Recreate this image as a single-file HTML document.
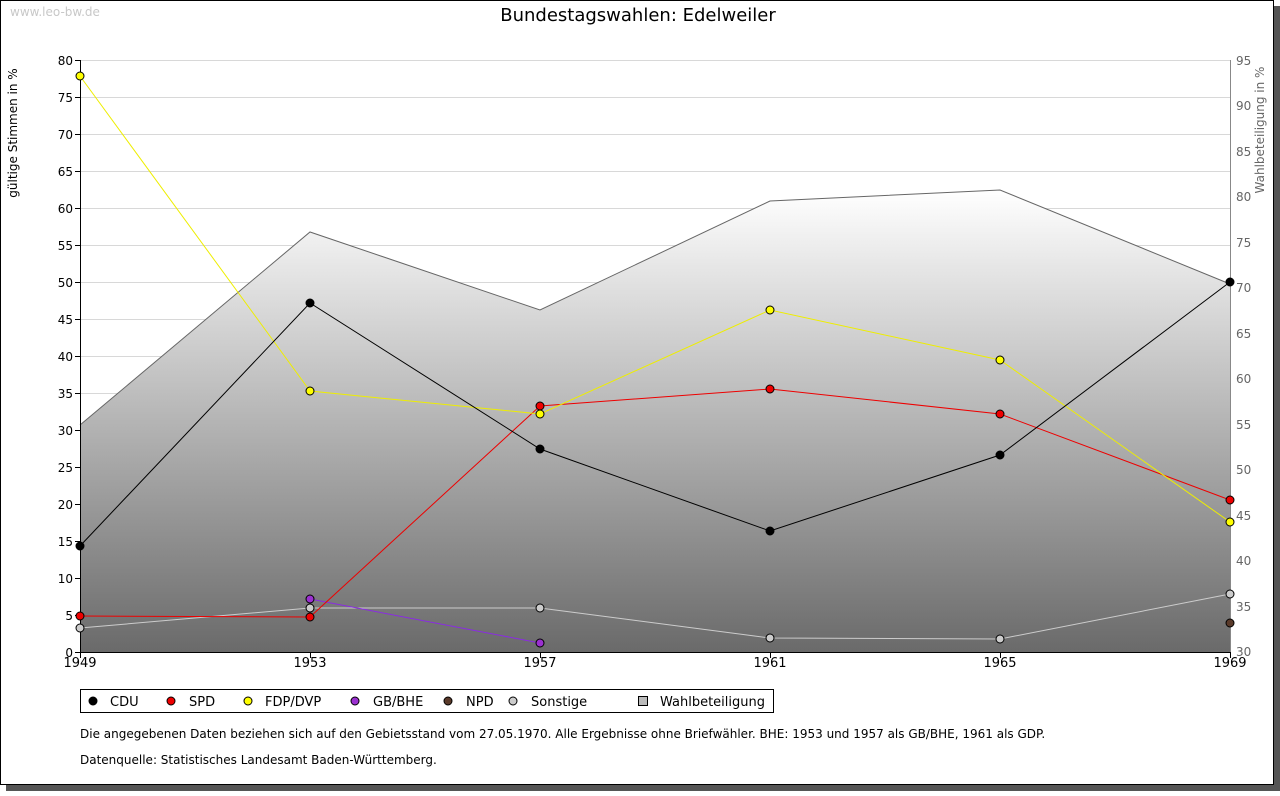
<!DOCTYPE html>
<html><head><meta charset="utf-8"><style>
body{margin:0;background:#fff;width:1280px;height:791px;overflow:hidden;font-family:"Liberation Sans","DejaVu Sans",sans-serif}
</style></head><body>
<svg width="1280" height="791" xmlns="http://www.w3.org/2000/svg" font-family="DejaVu Sans, Liberation Sans, sans-serif">
<defs><linearGradient id="g" gradientUnits="userSpaceOnUse" x1="0" y1="190" x2="0" y2="652">
<stop offset="0" stop-color="#ffffff"/><stop offset="1" stop-color="#6a6a6a"/></linearGradient></defs>
<rect x="6" y="6" width="1274" height="785" fill="#555"/>
<rect x="0.5" y="0.5" width="1273" height="784" fill="#fff" stroke="#000"/>
<text x="10" y="16" font-size="12" fill="#c8c8c8">www.leo-bw.de</text>
<text x="638" y="21" font-size="18" text-anchor="middle" fill="#000">Bundestagswahlen: Edelweiler</text>
<g stroke="#d8d8d8" stroke-width="1">
<line x1="80" x2="1230" y1="60.5" y2="60.5"/><line x1="80" x2="1230" y1="97.5" y2="97.5"/><line x1="80" x2="1230" y1="134.5" y2="134.5"/><line x1="80" x2="1230" y1="171.5" y2="171.5"/><line x1="80" x2="1230" y1="208.5" y2="208.5"/><line x1="80" x2="1230" y1="245.5" y2="245.5"/><line x1="80" x2="1230" y1="282.5" y2="282.5"/><line x1="80" x2="1230" y1="319.5" y2="319.5"/><line x1="80" x2="1230" y1="356.5" y2="356.5"/><line x1="80" x2="1230" y1="393.5" y2="393.5"/><line x1="80" x2="1230" y1="430.5" y2="430.5"/><line x1="80" x2="1230" y1="467.5" y2="467.5"/><line x1="80" x2="1230" y1="504.5" y2="504.5"/><line x1="80" x2="1230" y1="541.5" y2="541.5"/><line x1="80" x2="1230" y1="578.5" y2="578.5"/><line x1="80" x2="1230" y1="615.5" y2="615.5"/>
</g>
<polygon points="80,425 310,232 540,310 770,201 1000,190 1230,284 1230,652 80,652" fill="url(#g)"/>
<polyline points="80,425 310,232 540,310 770,201 1000,190 1230,284" fill="none" stroke="#666"/>
<line x1="80.5" y1="60" x2="80.5" y2="652" stroke="#000"/>
<line x1="80" y1="652.5" x2="1230" y2="652.5" stroke="#000"/>
<line x1="1230.5" y1="60" x2="1230.5" y2="652" stroke="#888"/>
<g font-size="12" fill="#000" text-anchor="end">
<text x="73" y="65">80</text><text x="73" y="102">75</text><text x="73" y="139">70</text><text x="73" y="176">65</text><text x="73" y="213">60</text><text x="73" y="250">55</text><text x="73" y="287">50</text><text x="73" y="324">45</text><text x="73" y="361">40</text><text x="73" y="398">35</text><text x="73" y="435">30</text><text x="73" y="472">25</text><text x="73" y="509">20</text><text x="73" y="546">15</text><text x="73" y="583">10</text><text x="73" y="620">5</text><text x="73" y="657">0</text>
</g>
<g stroke="#000"><path d="M75 60.5h5M75 97.5h5M75 134.5h5M75 171.5h5M75 208.5h5M75 245.5h5M75 282.5h5M75 319.5h5M75 356.5h5M75 393.5h5M75 430.5h5M75 467.5h5M75 504.5h5M75 541.5h5M75 578.5h5M75 615.5h5M75 652.5h5"/>
<path d="M80.5 652v6M310.5 652v6M540.5 652v6M770.5 652v6M1000.5 652v6M1230.5 652v6"/></g>
<g font-size="12" fill="#666">
<text x="1236" y="65">95</text><text x="1236" y="110">90</text><text x="1236" y="156">85</text><text x="1236" y="201">80</text><text x="1236" y="247">75</text><text x="1236" y="292">70</text><text x="1236" y="338">65</text><text x="1236" y="383">60</text><text x="1236" y="429">55</text><text x="1236" y="474">50</text><text x="1236" y="520">45</text><text x="1236" y="565">40</text><text x="1236" y="611">35</text><text x="1236" y="656">30</text>
</g>
<g font-size="13" fill="#000" text-anchor="middle">
<text x="80" y="667">1949</text><text x="310" y="667">1953</text><text x="540" y="667">1957</text><text x="770" y="667">1961</text><text x="1000" y="667">1965</text><text x="1230" y="667">1969</text>
</g>
<text transform="translate(17,133) rotate(-90)" font-size="12" text-anchor="middle" fill="#000">gültige Stimmen in %</text>
<text transform="translate(1264,130) rotate(-90)" font-size="12" text-anchor="middle" fill="#666">Wahlbeteiligung in %</text>
<polyline points="80,628 310,608 540,608 770,638 1000,639 1230,594" fill="none" stroke="#ccc"/>
<polyline points="310,599 540,643" fill="none" stroke="#8a2be2"/>
<polyline points="80,616 310,617 540,406 770,389 1000,414 1230,500" fill="none" stroke="#e00"/>
<polyline points="80,76 310,391 540,414 770,310 1000,360 1230,522" fill="none" stroke="#ee0"/>
<polyline points="80,546 310,303 540,449 770,531 1000,455 1230,282" fill="none" stroke="#000"/>
<g stroke="#000" stroke-width="1">
<g fill="#ccc"><circle cx="80" cy="628" r="4"/><circle cx="310" cy="608" r="4"/><circle cx="540" cy="608" r="4"/><circle cx="770" cy="638" r="4"/><circle cx="1000" cy="639" r="4"/><circle cx="1230" cy="594" r="4"/></g>
<g fill="#9b30d0"><circle cx="310" cy="599" r="4"/><circle cx="540" cy="643" r="4"/></g>
<circle cx="1230" cy="623" r="4" fill="#5a3a2a"/>
<g fill="#e00"><circle cx="80" cy="616" r="4"/><circle cx="310" cy="617" r="4"/><circle cx="540" cy="406" r="4"/><circle cx="770" cy="389" r="4"/><circle cx="1000" cy="414" r="4"/><circle cx="1230" cy="500" r="4"/></g>
<g fill="#ff0"><circle cx="80" cy="76" r="4"/><circle cx="310" cy="391" r="4"/><circle cx="540" cy="414" r="4"/><circle cx="770" cy="310" r="4"/><circle cx="1000" cy="360" r="4"/><circle cx="1230" cy="522" r="4"/></g>
<g fill="#000"><circle cx="80" cy="546" r="4"/><circle cx="310" cy="303" r="4"/><circle cx="540" cy="449" r="4"/><circle cx="770" cy="531" r="4"/><circle cx="1000" cy="455" r="4"/><circle cx="1230" cy="282" r="4"/></g>
</g>
<rect x="80.5" y="689.5" width="693" height="23" fill="#fff" stroke="#000"/>
<g stroke="#000" font-size="13">
<circle cx="93" cy="701" r="4" fill="#000"/><circle cx="171" cy="701" r="4" fill="#e00"/><circle cx="248" cy="701" r="4" fill="#ff0"/><circle cx="355" cy="701" r="4" fill="#9b30d0"/><circle cx="448" cy="701" r="4" fill="#5a3a2a"/><circle cx="513" cy="701" r="4" fill="#ccc"/><rect x="638.5" y="696.5" width="9" height="9" fill="#bbb"/>
</g>
<g font-size="13" fill="#000">
<text x="110" y="706">CDU</text><text x="189" y="706">SPD</text><text x="265" y="706">FDP/DVP</text><text x="373" y="706">GB/BHE</text><text x="466" y="706">NPD</text><text x="531" y="706">Sonstige</text><text x="660" y="706">Wahlbeteiligung</text>
</g>
<g font-size="12" fill="#000">
<text x="80" y="738">Die angegebenen Daten beziehen sich auf den Gebietsstand vom 27.05.1970. Alle Ergebnisse ohne Briefwähler. BHE: 1953 und 1957 als GB/BHE, 1961 als GDP.</text>
<text x="80" y="764">Datenquelle: Statistisches Landesamt Baden-Württemberg.</text>
</g>
</svg>
</body></html>
